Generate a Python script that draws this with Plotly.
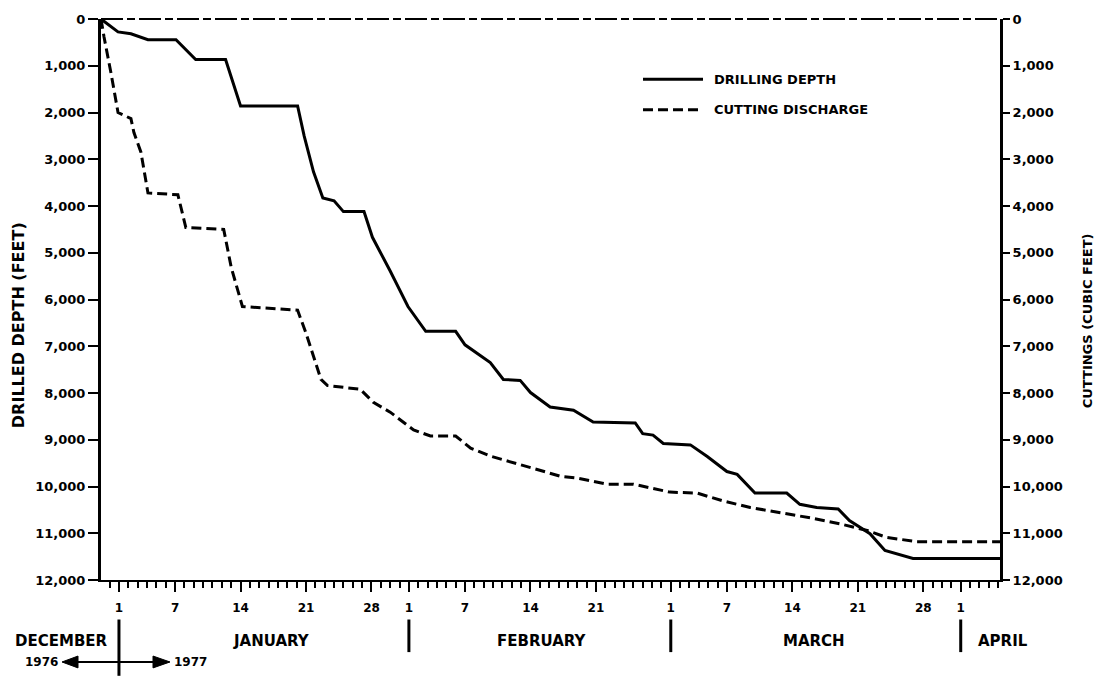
import plotly.graph_objects as go

# ---- data (x = days since 1 January 1977) ----
drill_days = [-1.92, -0.1, 1.28, 3.1, 6.1, 8.2, 11.4, 13.0, 19.1, 19.8,
              20.8, 21.8, 23.0, 24.0, 26.2, 27.1, 29.0, 30.9, 32.8, 36.0,
              37.0, 39.7, 41.1, 42.9, 44.0, 46.1, 48.6, 50.7, 55.2, 56.0,
              57.1, 58.2, 61.1, 62.9, 65.0, 66.1, 68.0, 71.4, 72.8, 74.6,
              76.9, 78.1, 80.3, 81.9, 84.9, 94.2]
drill_depth = [0, 275, 317, 444, 444, 866, 866, 1860, 1860, 2500,
               3270, 3830, 3890, 4120, 4120, 4670, 5390, 6150, 6680, 6680,
               6970, 7350, 7710, 7730, 7990, 8300, 8370, 8620, 8640, 8870,
               8900, 9080, 9110, 9360, 9680, 9740, 10140, 10140, 10380, 10450,
               10480, 10730, 11010, 11370, 11540, 11540]

cut_days = [-1.92, -1.6, -0.85, -0.1, 1.28, 1.6, 2.35, 3.1, 6.3, 7.15,
            11.2, 12.0, 13.2, 19.1, 20.0, 21.6, 22.3, 25.8, 27.2, 29.0,
            31.5, 33.3, 36.0, 37.6, 39.7, 42.4, 45.1, 47.2, 49.0, 52.2,
            55.0, 58.9, 61.8, 64.6, 67.5, 71.7, 73.9, 77.1, 80.0, 82.1,
            85.3, 94.2]
cut_volume = [0, 380, 1160, 2000, 2130, 2430, 2850, 3720, 3760, 4460,
              4500, 5310, 6150, 6230, 6720, 7710, 7840, 7920, 8200, 8410,
              8790, 8920, 8920, 9180, 9350, 9500, 9650, 9780, 9820, 9950,
              9950, 10120, 10140, 10310, 10450, 10590, 10670, 10800, 10940, 11090,
              11180, 11180]

x_tick_vals = [0, 6, 13, 20, 27, 31, 37, 44, 51, 59, 65, 72, 79, 86, 90]
x_tick_text = ["1", "7", "14", "21", "28", "1", "7", "14", "21",
               "1", "7", "14", "21", "28", "1"]
y_tick_vals = list(range(0, 12001, 1000))
y_tick_text = ["0", "1,000", "2,000", "3,000", "4,000", "5,000", "6,000",
               "7,000", "8,000", "9,000", "10,000", "11,000", "12,000"]
month_starts = [0, 31, 59, 90]
month_names = ["DECEMBER", "JANUARY", "FEBRUARY", "MARCH", "APRIL"]
month_label_px = [61, 271, 542, 814, 1003]
series_names = ["DRILLING DEPTH", "CUTTING DISCHARGE"]

# ---- layout geometry (pixels) ----
W, H = 1099, 681
L, R, T, B = 101, 1000, 12, 580
FONT = "DejaVu Sans"


def px(x):
    return (x - L) / (R - L)


def py(y):
    return (B - y) / (B - T)


fig = go.Figure()
fig.add_trace(go.Scatter(x=drill_days, y=drill_depth, mode="lines",
                         name=series_names[0], showlegend=False,
                         line=dict(color="black", width=3)))
fig.add_trace(go.Scatter(x=cut_days, y=cut_volume, mode="lines", yaxis="y2",
                         name=series_names[1], showlegend=False,
                         line=dict(color="black", width=3, dash="10px,5px")))

tickfont = dict(family=FONT, size=13, color="black", weight="bold")

fig.update_layout(
    width=W, height=H,
    margin=dict(l=L, r=W - R, t=T, b=H - B, pad=0),
    paper_bgcolor="white", plot_bgcolor="white",
    xaxis=dict(range=[-1.92, 94.2], tickvals=x_tick_vals, ticktext=x_tick_text,
               ticks="outside", ticklen=10, tickwidth=2, tickcolor="black",
               ticklabelstandoff=6,
               minor=dict(dtick=1, tick0=0, ticks="outside", ticklen=6,
                          tickwidth=2, tickcolor="black", showgrid=False),
               showgrid=False, zeroline=False, showline=True, linewidth=2,
               linecolor="black", tickfont=dict(family=FONT, size=12,
                                                color="black", weight="bold")),
    yaxis=dict(range=[12000, 0], tickvals=y_tick_vals, ticktext=y_tick_text,
               ticks="outside", ticklen=10, tickwidth=2, tickcolor="black",
               showgrid=False, zeroline=False, showline=True, linewidth=3,
               linecolor="black", tickfont=tickfont),
    yaxis2=dict(range=[12000, 0], tickvals=y_tick_vals, ticktext=y_tick_text,
                overlaying="y", side="right",
                ticks="outside", ticklen=7, tickwidth=2, tickcolor="black",
                showgrid=False, zeroline=False, showline=True, linewidth=3,
                linecolor="black", tickfont=tickfont),
    showlegend=False,
)

shapes = []
annotations = []

# dashed top border
shapes.append(dict(type="line", xref="paper", yref="paper", x0=0, x1=1, y0=1, y1=1,
                   line=dict(color="black", width=2, dash="22px,4px,8px,4px")))

# month dividers
for i, m in enumerate(month_starts):
    y1 = py(677) if i == 0 else py(653)
    shapes.append(dict(type="line", xref="x", yref="paper", x0=m, x1=m,
                       y0=py(620), y1=y1, line=dict(color="black", width=3)))

# month names
for name, xp in zip(month_names, month_label_px):
    annotations.append(dict(text=name, xref="paper", yref="paper", x=px(xp), y=py(642),
                            showarrow=False, xanchor="center", yanchor="middle",
                            font=dict(family=FONT, size=15, color="black", weight="bold")))

# year arrows
shapes.append(dict(type="line", xref="paper", yref="paper", x0=px(75), x1=px(155),
                   y0=py(663), y1=py(663), line=dict(color="black", width=2)))
shapes.append(dict(type="path", xref="paper", yref="paper",
                   path=f"M {px(62)},{py(663)} L {px(78)},{py(657)} L {px(78)},{py(669)} Z",
                   fillcolor="black", line=dict(color="black", width=1)))
shapes.append(dict(type="path", xref="paper", yref="paper",
                   path=f"M {px(170)},{py(663)} L {px(153)},{py(657)} L {px(153)},{py(669)} Z",
                   fillcolor="black", line=dict(color="black", width=1)))
for txt, xp in [("1976", 42), ("1977", 190)]:
    annotations.append(dict(text=txt, xref="paper", yref="paper", x=px(xp), y=py(663),
                            showarrow=False, xanchor="center", yanchor="middle",
                            font=dict(family=FONT, size=12, color="black", weight="bold")))

# axis titles
annotations.append(dict(text="DRILLED DEPTH (FEET)", xref="paper", yref="paper",
                        x=px(18), y=py(322), textangle=-90, showarrow=False,
                        xanchor="center", yanchor="middle",
                        font=dict(family=FONT, size=16, color="black", weight="bold")))
annotations.append(dict(text="CUTTINGS (CUBIC FEET)", xref="paper", yref="paper",
                        x=px(1087), y=py(318), textangle=-90, showarrow=False,
                        xanchor="center", yanchor="middle",
                        font=dict(family=FONT, size=13, color="black", weight="bold")))

# legend
leg_rows = [(73, None), (104, "10px,5px")]
for name, (yp, dash) in zip(series_names, leg_rows):
    ln = dict(color="black", width=3)
    if dash:
        ln["dash"] = dash
    shapes.append(dict(type="line", xref="paper", yref="paper", x0=px(643), x1=px(703),
                       y0=py(yp), y1=py(yp), line=ln))
    annotations.append(dict(text=name, xref="paper", yref="paper", x=px(712), y=py(yp),
                            showarrow=False, xanchor="left", yanchor="middle",
                            font=dict(family=FONT, size=13, color="black", weight="bold")))

fig.update_layout(shapes=shapes, annotations=annotations)
fig.write_html("out.html", config={"displayModeBar": False},
               post_script="document.body.style.margin='0px';document.body.style.overflow='hidden';")
